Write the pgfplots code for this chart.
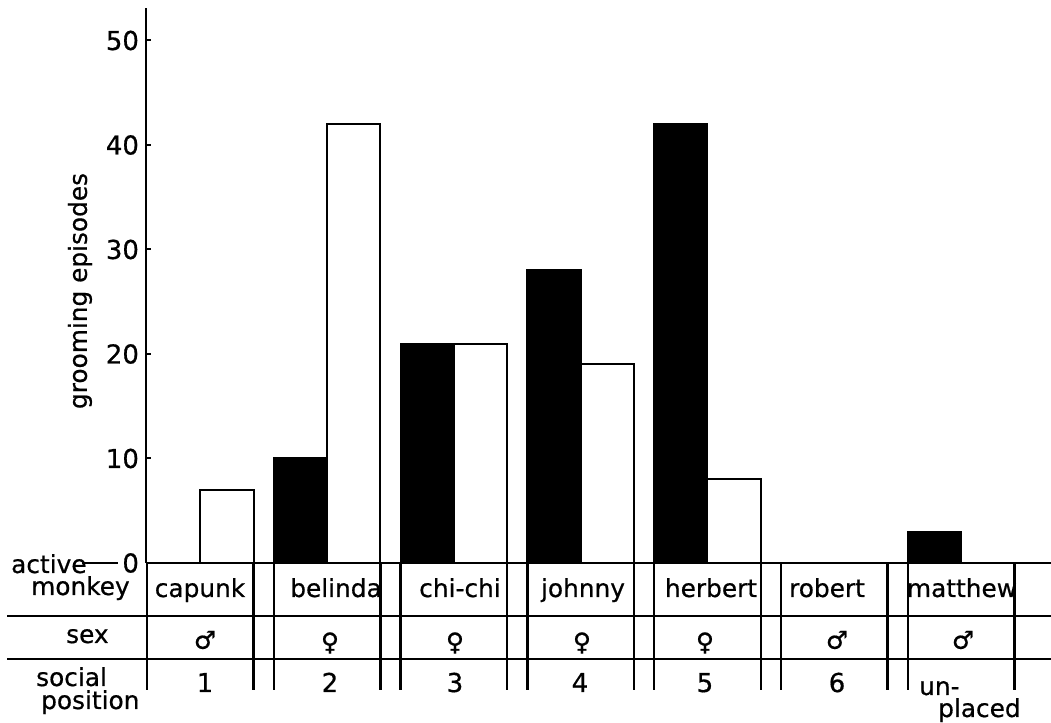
\documentclass[border=0pt]{standalone}
\usepackage{pgfplots}
\pgfplotsset{compat=1.18}
\usepackage{fontspec}
\setmainfont{DejaVu Sans}[FakeBold=0.6]
\newcommand{\tf}{\fontsize{12.4}{14}\selectfont}
\newcommand{\nf}{\fontsize{13}{15}\selectfont}
\begin{document}
\begin{tikzpicture}
\begin{axis}[
  scale only axis,
  width=452.5pt, height=277.5pt,
  at={(73pt,0)}, anchor=south west,
  xmin=0, xmax=7.1372,
  ymin=0, ymax=53.11,
  axis x line=none,
  axis y line=left,
  axis line style={-, line width=1.1pt},
  ytick={0,10,20,30,40,50},
  major tick length=0pt,
  /pgf/number format/assume math mode=true,
  yticklabel style={font=\nf, anchor=east, xshift=0pt},
  clip=false,
]
% active monkey (black) and partner (white) grooming episodes
\addplot[ybar, bar width=0.42, bar shift=0pt, fill=black, draw=black, line width=1pt]
  coordinates {(0.218,0) (1.218,10) (2.218,21) (3.218,28) (4.218,42) (5.218,0) (6.218,3)};
\addplot[ybar, bar width=0.42, bar shift=0pt, fill=white, draw=black, line width=1pt]
  coordinates {(0.638,7) (1.638,42) (2.638,21) (3.638,19) (4.638,8) (5.638,0) (6.638,0)};
\end{axis}
\begin{scope}[x=0.5pt, y=-0.5pt, yshift=281.5pt, line width=1.2pt]
  % small ticks to the right of the y axis
  \foreach \t in {458.5,354,249.5,145,40.5} {
    \draw[line width=1pt] (146,\t) -- (151,\t);
  }
  % baseline and table rules
  \draw (146,563) -- (1051,563);
  \draw (82,563) -- (118,563);
  \draw (7,616) -- (1051,616);
  \draw (7,659) -- (1051,659);
  \foreach \i in {0,...,6} {
    \draw ({147+126.8*\i},563) -- ++(0,127);
    \draw ({253.5+126.8*\i},563) -- ++(0,127);
  }
  % y label
  \node[rotate=90, font=\tf] at (80,291) {grooming episodes};
  % row labels
  \node[anchor=base west, font=\tf, inner sep=0pt] at (10,573) {active};
  \node[anchor=base west, font=\tf, inner sep=0pt] at (30,595) {monkey};
  \node[anchor=base west, font=\tf, inner sep=0pt] at (65,643) {sex};
  \node[anchor=base west, font=\tf, inner sep=0pt] at (35,686) {social};
  \node[anchor=base west, font=\tf, inner sep=0pt] at (40,709) {position};
  % names
  \node[anchor=base, font=\tf, inner sep=0pt] at (200,597) {capunk};
  \node[anchor=base, font=\tf, inner sep=0pt] at (336,597) {belinda};
  \node[anchor=base, font=\tf, inner sep=0pt] at (460,597) {chi-chi};
  \node[anchor=base, font=\tf, inner sep=0pt] at (583,597) {johnny};
  \node[anchor=base, font=\tf, inner sep=0pt] at (711,597) {herbert};
  \node[anchor=base, font=\tf, inner sep=0pt] at (827,597) {robert};
  \node[anchor=base, font=\tf, inner sep=0pt] at (962,597) {matthew};
  % sex
  \node[font=\tf, inner sep=0pt] at (205,640) {♂};
  \node[font=\tf, inner sep=0pt] at (330,643) {♀};
  \node[font=\tf, inner sep=0pt] at (455,643) {♀};
  \node[font=\tf, inner sep=0pt] at (582,643) {♀};
  \node[font=\tf, inner sep=0pt] at (705,643) {♀};
  \node[font=\tf, inner sep=0pt] at (837,640) {♂};
  \node[font=\tf, inner sep=0pt] at (963,640) {♂};
  % social position
  \node[anchor=base, font=\nf, inner sep=0pt] at (205,692) {1};
  \node[anchor=base, font=\nf, inner sep=0pt] at (330,692) {2};
  \node[anchor=base, font=\nf, inner sep=0pt] at (455,692) {3};
  \node[anchor=base, font=\nf, inner sep=0pt] at (580,692) {4};
  \node[anchor=base, font=\nf, inner sep=0pt] at (705,692) {5};
  \node[anchor=base, font=\nf, inner sep=0pt] at (837,692) {6};
  \node[anchor=base west, font=\tf, inner sep=0pt] at (918,695) {un-};
  \node[anchor=base west, font=\tf, inner sep=0pt] at (937,717) {placed};
  \pgfresetboundingbox
  \path[use as bounding box] (0,0) rectangle (1051,723);
\end{scope}
\end{tikzpicture}
\end{document}
